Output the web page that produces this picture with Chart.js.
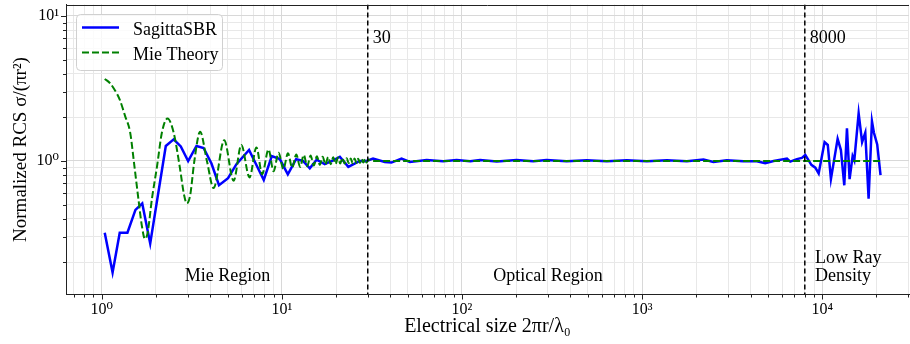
<!DOCTYPE html>
<html><head><meta charset="utf-8">
<script src="https://cdn.jsdelivr.net/npm/chart.js@4.4.1/dist/chart.umd.min.js"></script>
<style>html,body{margin:0;padding:0;background:#fff;} canvas{display:block;}</style>
</head><body>
<canvas id="c" width="910" height="344"></canvas>
<script>
// ---- data ----
const sbrX = [1.04,1.15,1.26,1.39,1.54,1.68,1.86,2.27,2.51,2.75,3.02,3.36,3.68,4.07,4.48,5.03,5.6,6.58,7.94,8.8,9.75,10.8,12.0,13.1,14.3,15.6,17.3,19.3,21.0,23.4,27.1,29.5,32.1,37.3,40.6,46.2,51.4,63.7,78.7,93.4,111,126,156,201,249,295,381,493,637,822,1062,1371,1772,2191,2489,2951,3654,4335,4820,5370,6370,6640,7230,7710,8050,8400,8700,9150,9550,10300,10730,11170,12170,12690,13250,13710,14180,14740,15060,15920,16640,17330,18080,18870,19340,20180,21060];
const sbrY = [0.32,0.17,0.32,0.32,0.46,0.51,0.27,1.27,1.41,1.26,1.0,1.27,1.23,0.96,0.68,0.76,0.95,1.19,0.74,1.08,1.03,0.81,1.03,1.0,0.89,1.02,0.95,1.01,1.07,0.91,1.0,1.0,1.04,0.985,0.975,1.04,0.985,1.015,0.995,1.015,0.995,1.015,0.99,1.015,0.995,1.015,0.995,1.01,0.995,1.01,0.995,1.01,0.995,1.025,0.985,1.01,0.995,0.995,0.965,1.0,1.04,0.99,1.03,1.05,1.1,1.01,0.94,0.9,0.82,1.35,1.29,0.75,1.42,1.19,0.68,1.68,0.75,1.08,1.01,2.13,1.35,1.57,0.55,1.88,1.57,1.30,0.80];
const mieX = [1.04,1.11,1.18,1.26,1.35,1.44,1.52,1.60,1.67,1.74,1.80,1.90,2.03,2.16,2.32,2.51,2.71,2.87,2.97,3.10,3.27,3.52,3.84,4.18,4.79,5.40,5.96,6.62,7.23,7.78,8.44,9.0,9.6,10.2,10.82,11.42,12.03,12.63,13.24,13.84,14.45,15.05,15.66,16.26,16.87,17.47,18.08,18.68,19.29,19.89,20.5,21.1,21.71,22.31,22.92,23.52,24.13,24.73,25.34,25.94,26.55,27.15,27.76,28.36,28.97,29.57,30.18,31.5,50,100,300,1000,3000,10000,21060];
const mieY = [3.68,3.45,3.1,2.65,2.04,1.57,0.92,0.545,0.36,0.29,0.32,0.545,0.92,1.57,1.96,1.57,0.92,0.58,0.51,0.58,1.0,1.59,1.0,0.65,1.39,0.73,1.29,0.77,1.24,0.81,1.20,0.85,1.14,0.88,1.13,0.90,1.11,0.91,1.10,0.92,1.09,0.93,1.08,0.94,1.07,0.945,1.065,0.95,1.06,0.955,1.055,0.96,1.05,0.96,1.045,0.965,1.04,0.965,1.04,0.97,1.035,0.97,1.03,0.975,1.03,0.975,1.025,1.0,1.0,1.0,1.0,1.0,1.0,1.0,1.0];
const seriesNames = ['SagittaSBR', 'Mie Theory'];
const regionBounds = [30, 8000];
const boundLabels = ['30', '8000'];
const regionLabels = ['Mie Region', 'Optical Region', 'Low Ray', 'Density'];
const xTickValues = [0.7,0.8,0.9,1,2,3,4,5,6,7,8,9,10,20,30,40,50,60,70,80,90,100,200,300,400,500,600,700,800,900,1000,2000,3000,4000,5000,6000,7000,8000,9000,10000,20000,30000];
const yTickValues = [0.2,0.3,0.4,0.5,0.6,0.7,0.8,0.9,1,2,3,4,5,6,7,8,9,10];
const xTickLabels = {1:'10⁰', 10:'10¹', 100:'10²', 1000:'10³', 10000:'10⁴'};
const yTickLabels = {1:'10⁰', 10:'10¹'};
const xTitle = 'Electrical size 2πr/λ₀';
const yTitle = 'Normalized RCS σ/(πr²)';

const FONT = "'Liberation Serif', 'DejaVu Serif', serif";
const isMajor = v => Math.abs(Math.log10(v) - Math.round(Math.log10(v))) < 1e-9;

const decor = {
  id: 'decor',
  afterDatasetsDraw(chart) {
    const {ctx, chartArea: a, scales: {x}} = chart;
    ctx.save();
    ctx.beginPath(); ctx.rect(a.left, a.top, a.right - a.left, a.bottom - a.top); ctx.clip();
    ctx.strokeStyle = '#000'; ctx.lineWidth = 1.5; ctx.setLineDash([5, 3]);
    regionBounds.forEach(v => {
      const px = x.getPixelForValue(v);
      ctx.beginPath(); ctx.moveTo(px, a.top); ctx.lineTo(px, a.bottom); ctx.stroke();
    });
    ctx.restore();
  },
  afterDraw(chart) {
    const {ctx, chartArea: a, scales: {x, y}} = chart;
    ctx.save();
    // top spine
    ctx.strokeStyle = '#222'; ctx.lineWidth = 1;
    ctx.beginPath(); ctx.moveTo(a.left, Math.round(a.top) + 0.5); ctx.lineTo(a.right, Math.round(a.top) + 0.5); ctx.stroke();
    // tick marks
    xTickValues.forEach(v => {
      const px = Math.round(x.getPixelForValue(v)) + 0.5;
      const len = isMajor(v) ? 5 : 3;
      ctx.beginPath(); ctx.moveTo(px, a.bottom); ctx.lineTo(px, a.bottom + len); ctx.stroke();
    });
    yTickValues.forEach(v => {
      const py = Math.round(y.getPixelForValue(v)) + 0.5;
      const len = isMajor(v) ? 5 : 3;
      ctx.beginPath(); ctx.moveTo(a.left, py); ctx.lineTo(a.left - len, py); ctx.stroke();
    });
    // annotation texts
    ctx.fillStyle = '#000';
    ctx.font = '18px ' + FONT;
    ctx.textBaseline = 'alphabetic';
    ctx.textAlign = 'left';
    regionBounds.forEach((v, i) => {
      ctx.fillText(boundLabels[i], x.getPixelForValue(v) + 5, 43);
    });
    ctx.textAlign = 'center';
    ctx.fillText(regionLabels[0], x.getPixelForValue(5), 281);
    ctx.fillText(regionLabels[1], x.getPixelForValue(300), 281);
    ctx.textAlign = 'left';
    ctx.fillText(regionLabels[2], x.getPixelForValue(9100), 263);
    ctx.fillText(regionLabels[3], x.getPixelForValue(9100), 281);
    // legend
    ctx.fillStyle = 'rgba(255,255,255,0.8)';
    ctx.strokeStyle = '#d0d0d0'; ctx.lineWidth = 1;
    ctx.beginPath(); ctx.roundRect(76.5, 14.5, 146, 56, 4); ctx.fill(); ctx.stroke();
    ctx.lineWidth = 2.5; ctx.strokeStyle = '#0000ff';
    ctx.beginPath(); ctx.moveTo(82, 27.5); ctx.lineTo(119, 27.5); ctx.stroke();
    ctx.lineWidth = 2; ctx.strokeStyle = '#008000'; ctx.setLineDash([7, 3]);
    ctx.beginPath(); ctx.moveTo(82, 52.5); ctx.lineTo(119, 52.5); ctx.stroke();
    ctx.setLineDash([]);
    ctx.fillStyle = '#000'; ctx.textAlign = 'left';
    ctx.fillText(seriesNames[0], 133, 34.5);
    ctx.fillText(seriesNames[1], 133, 59.5);
    ctx.restore();
  }
};

new Chart(document.getElementById('c'), {
  type: 'line',
  data: {
    datasets: [
      { label: seriesNames[0], data: sbrX.map((v, i) => ({x: v, y: sbrY[i]})),
        borderColor: '#0000ff', borderWidth: 2.5, pointRadius: 0, tension: 0, order: 2, fill: false },
      { label: seriesNames[1], data: mieX.map((v, i) => ({x: v, y: mieY[i]})),
        borderColor: '#008000', borderWidth: 2, borderDash: [7, 3], pointRadius: 0,
        cubicInterpolationMode: 'monotone', order: 1, fill: false }
    ]
  },
  options: {
    responsive: false, animation: false, devicePixelRatio: 1,
    layout: { padding: { top: 4.5, right: 1, left: 0, bottom: 0 } },
    plugins: { legend: { display: false }, tooltip: { enabled: false } },
    scales: {
      x: {
        type: 'logarithmic', min: 0.634, max: 30300, bounds: 'data',
        afterBuildTicks: s => { s.ticks = xTickValues.map(v => ({value: v, major: isMajor(v)})); },
        afterFit: s => { s.height = 49.5; s.paddingLeft = 0; s.paddingRight = 0; },
        ticks: { autoSkip: false, maxRotation: 0, padding: 6, color: '#000',
                 font: { family: FONT, size: 16 }, callback: v => xTickLabels[v] || '' },
        grid: { drawTicks: false, color: c => (c.tick && c.tick.major) ? '#d8d8d8' : '#e8e8e8', lineWidth: 1 },
        border: { color: '#222', width: 1 },
        title: { display: true, text: xTitle, color: '#000', font: { family: FONT, size: 20 }, padding: { top: 0, bottom: 5 } }
      },
      y: {
        type: 'logarithmic', min: 0.12, max: 12, bounds: 'data',
        afterBuildTicks: s => { s.ticks = yTickValues.map(v => ({value: v, major: isMajor(v)})); },
        afterFit: s => { s.width = 66; s.paddingTop = 0; s.paddingBottom = 0; },
        ticks: { autoSkip: false, padding: 7, color: '#000',
                 font: { family: FONT, size: 16 }, callback: v => yTickLabels[v] || '' },
        grid: { drawTicks: false, color: c => (c.tick && c.tick.major) ? '#d8d8d8' : '#e8e8e8', lineWidth: 1 },
        border: { color: '#222', width: 1 },
        title: { display: true, text: yTitle, color: '#000', font: { family: FONT, size: 19 }, padding: { top: 10, bottom: 0 } }
      }
    }
  },
  plugins: [decor]
});
</script>
</body></html>
